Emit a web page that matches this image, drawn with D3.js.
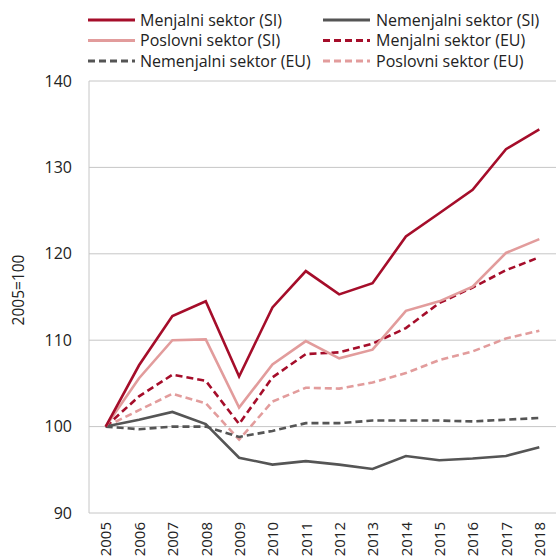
<!DOCTYPE html>
<html>
<head>
<meta charset="utf-8">
<script src="https://cdn.jsdelivr.net/npm/d3@7"></script>
<style>
  body { margin: 0; background: #fff; }
  text { font-family: "Open Sans", sans-serif; fill: #222; }
</style>
</head>
<body>
<svg id="chart"></svg>
<script>
const years = ["2005", "2006", "2007", "2008", "2009", "2010", "2011", "2012", "2013", "2014", "2015", "2016", "2017", "2018"];
const yTicks = [90, 100, 110, 120, 130, 140];

const menjalniSI = [100, 107.1, 112.8, 114.5, 105.8, 113.8, 118.0, 115.3, 116.6, 122.0, 124.7, 127.4, 132.1, 134.4];
const nemenjalniSI = [100, 100.8, 101.7, 100.3, 96.4, 95.6, 96.0, 95.6, 95.1, 96.6, 96.1, 96.3, 96.6, 97.6];
const poslovniSI = [100, 105.6, 110.0, 110.1, 102.2, 107.2, 109.9, 107.9, 108.9, 113.4, 114.5, 116.2, 120.1, 121.7];
const menjalniEU = [100, 103.5, 106.0, 105.3, 100.3, 105.7, 108.4, 108.6, 109.6, 111.4, 114.3, 116.1, 118.1, 119.6];
const nemenjalniEU = [100, 99.7, 100.0, 100.0, 98.8, 99.5, 100.4, 100.4, 100.7, 100.7, 100.7, 100.6, 100.8, 101.0];
const poslovniEU = [100, 101.9, 103.8, 102.7, 98.5, 102.9, 104.5, 104.4, 105.1, 106.2, 107.7, 108.7, 110.2, 111.1];

const darkRed = "#a50d2a";
const grey = "#555555";
const pink = "#e29c9c";

const series = [
  { name: "Menjalni sektor (SI)", values: menjalniSI, color: darkRed, dash: null },
  { name: "Nemenjalni sektor (SI)", values: nemenjalniSI, color: grey, dash: null },
  { name: "Poslovni sektor (SI)", values: poslovniSI, color: pink, dash: null },
  { name: "Menjalni sektor (EU)", values: menjalniEU, color: darkRed, dash: "7,4" },
  { name: "Nemenjalni sektor (EU)", values: nemenjalniEU, color: grey, dash: "7,4" },
  { name: "Poslovni sektor (EU)", values: poslovniEU, color: pink, dash: "7,4" }
];

const w = 556;
const h = 556;
const plotLeft = 89, plotRight = 556, plotTop = 81, plotBottom = 513;

const svg = d3.select("#chart").attr("width", w).attr("height", h);

const xScale = d3.scalePoint().domain(years).range([plotLeft, plotRight]).padding(0.5);
const yScale = d3.scaleLinear().domain([90, 140]).range([plotBottom, plotTop]);

// gridlines
svg.append("g")
  .selectAll("line")
  .data(yTicks)
  .enter()
  .append("line")
  .attr("x1", plotLeft)
  .attr("x2", plotRight)
  .attr("y1", (d) => yScale(d))
  .attr("y2", (d) => yScale(d))
  .attr("stroke", "#c6c6c6")
  .attr("stroke-width", 1);

svg.append("line")
  .attr("x1", plotLeft).attr("x2", plotLeft)
  .attr("y1", plotTop).attr("y2", plotBottom)
  .attr("stroke", "#c6c6c6");

// y axis
const yAxis = d3.axisLeft(yScale).tickValues(yTicks).tickSize(0).tickPadding(17);
svg.append("g")
  .attr("transform", `translate(${plotLeft}, 0)`)
  .call(yAxis)
  .call((g) => g.select(".domain").remove())
  .call((g) => g.selectAll("text").attr("font-size", 16).attr("font-family", "Open Sans").attr("fill", "#222"));

// x axis
const xAxis = d3.axisBottom(xScale).tickSize(0);
svg.append("g")
  .attr("transform", `translate(0, ${plotBottom})`)
  .call(xAxis)
  .call((g) => g.select(".domain").remove())
  .call((g) =>
    g.selectAll("text")
      .attr("font-size", 15)
      .attr("font-family", "Open Sans")
      .attr("fill", "#222")
      .attr("transform", "rotate(-90)")
      .attr("text-anchor", "end")
      .attr("x", -9)
      .attr("y", 0)
      .attr("dy", "0.35em")
  );

svg.append("text")
  .attr("transform", "translate(19, 290) rotate(-90)")
  .attr("text-anchor", "middle")
  .attr("dy", "0.35em")
  .attr("font-size", 15.5)
  .text("2005=100");

const line = d3.line()
  .x((d, i) => xScale(years[i]))
  .y((d) => yScale(d));

// draw EU dashed first, SI solid on top
const drawOrder = [5, 4, 3, 1, 2, 0];
svg.append("g")
  .selectAll("path")
  .data(drawOrder.map((i) => series[i]))
  .enter()
  .append("path")
  .attr("d", (d) => line(d.values))
  .attr("fill", "none")
  .attr("stroke", (d) => d.color)
  .attr("stroke-width", 2.6)
  .attr("stroke-dasharray", (d) => d.dash)
  .attr("stroke-linejoin", "miter");

// legend
const legendX = [88, 323];
const legend = svg.append("g");
const legendItems = legend.selectAll("g")
  .data(series)
  .enter()
  .append("g")
  .attr("transform", (d, i) => `translate(${legendX[i % 2]}, ${20 + Math.floor(i / 2) * 20.5})`);

legendItems.append("line")
  .attr("x1", 0).attr("x2", 47)
  .attr("y1", 0).attr("y2", 0)
  .attr("stroke", (d) => d.color)
  .attr("stroke-width", 2.8)
  .attr("stroke-dasharray", (d) => d.dash);

legendItems.append("text")
  .attr("x", (d, i) => (i % 2 === 0 ? 52 : 53))
  .attr("dy", "0.35em")
  .attr("font-size", 16)
  .text((d) => d.name);
</script>
</body>
</html>
